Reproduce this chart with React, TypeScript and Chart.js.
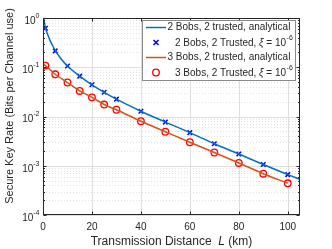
import React, { useEffect, useRef } from "react";
import { Chart, registerables } from "chart.js";
Chart.register(...registerables);

// ---- data ----
const blueLineL = [0, 0.5, 1, 2, 3, 4, 5, 7.5, 10, 15, 20, 25, 30, 40, 50, 60, 70, 80, 90, 100, 105];
const blueLineR = [1.3, 0.85, 0.63, 0.45, 0.34, 0.27, 0.22, 0.145, 0.106, 0.066, 0.044, 0.031, 0.0225, 0.0128, 0.0077, 0.0047, 0.0028, 0.00173, 0.00106, 0.00066, 0.00053];
const blueMarkL = [1, 5, 10, 15, 20, 25, 30, 40, 50, 60, 70, 80, 90, 100];
const blueMarkR = [0.62, 0.215, 0.106, 0.066, 0.044, 0.031, 0.0225, 0.0128, 0.0077, 0.0047, 0.0028, 0.00173, 0.00106, 0.00066];
const redLineL = [0, 1, 5, 10, 15, 20, 25, 30, 40, 50, 60, 70, 80, 90, 100];
const redLineR = [0.118, 0.108, 0.072, 0.049, 0.033, 0.0245, 0.0175, 0.0137, 0.008, 0.0049, 0.003, 0.00186, 0.00114, 0.00069, 0.00044];
const redMarkL = [1, 5, 10, 15, 20, 25, 30, 40, 50, 60, 70, 80, 90, 100];
const redMarkR = [0.108, 0.072, 0.049, 0.033, 0.0245, 0.0175, 0.0137, 0.008, 0.0049, 0.003, 0.00186, 0.00114, 0.00069, 0.00044];
const xTicks = [0, 20, 40, 60, 80, 100];
const yExponents = [0, -1, -2, -3, -4];
const legendLabels = [
  "2 Bobs, 2 trusted, analytical",
  "2 Bobs, 2 Trusted, ",
  "3 Bobs, 2 trusted, analytical",
  "3 Bobs, 2 Trusted, ",
];
const xTitle = ["Transmission Distance  ", "L", " (km)"];
const yTitle = "Secure Key Rate (Bits per Channel use)";

const BLUE = "#0072BD";
const ORANGE = "#D95319";
const MBLUE = "#0000FF";
const MRED = "#FF0000";
const AX = "#262626";
const FONT = '"Liberation Sans", Arial, Helvetica, sans-serif';

const pts = (xs: number[], ys: number[]) => xs.map((x, i) => ({ x, y: ys[i] }));

const drawPlugin = {
  id: "matlabAxes",
  beforeDatasetsDraw(chart: any) {
    const { ctx, chartArea: ca } = chart;
    const xs = chart.scales.x;
    const ys = chart.scales.y;
    ctx.save();
    ctx.strokeStyle = "#e2e2e2";
    ctx.lineWidth = 1;
    ctx.setLineDash([1, 2]);
    for (let e = -4; e < 0; e++) {
      for (let k = 2; k <= 9; k++) {
        const py = Math.round(ys.getPixelForValue(k * Math.pow(10, e))) + 0.5;
        ctx.beginPath();
        ctx.moveTo(ca.left, py);
        ctx.lineTo(ca.right, py);
        ctx.stroke();
      }
    }
    ctx.setLineDash([]);
    ctx.strokeStyle = "#dedede";
    for (const e of yExponents) {
      const py = Math.round(ys.getPixelForValue(Math.pow(10, e))) + 0.5;
      ctx.beginPath();
      ctx.moveTo(ca.left, py);
      ctx.lineTo(ca.right, py);
      ctx.stroke();
    }
    for (const t of xTicks) {
      const px = Math.round(xs.getPixelForValue(t)) + 0.5;
      ctx.beginPath();
      ctx.moveTo(px, ca.top);
      ctx.lineTo(px, ca.bottom);
      ctx.stroke();
    }
    ctx.restore();
  },
  afterDraw(chart: any) {
    const { ctx, chartArea: ca } = chart;
    const xs = chart.scales.x;
    const ys = chart.scales.y;
    ctx.save();
    const L = Math.round(ca.left) + 0.5;
    const R = Math.round(ca.right) - 0.5;
    const T = Math.round(ca.top) + 0.5;
    const B = Math.round(ca.bottom) - 0.5;
    ctx.strokeStyle = AX;
    ctx.lineWidth = 1;
    ctx.strokeRect(L, T, R - L, B - T);
    ctx.beginPath();
    for (const t of xTicks) {
      const px = Math.round(xs.getPixelForValue(t)) + 0.5;
      ctx.moveTo(px, B);
      ctx.lineTo(px, B - 3);
      ctx.moveTo(px, T);
      ctx.lineTo(px, T + 3);
    }
    for (const e of yExponents) {
      const py = Math.round(ys.getPixelForValue(Math.pow(10, e))) + 0.5;
      ctx.moveTo(L, py);
      ctx.lineTo(L + 3, py);
      ctx.moveTo(R, py);
      ctx.lineTo(R - 3, py);
    }
    for (let e = -4; e < 0; e++) {
      for (let k = 2; k <= 9; k++) {
        const py = Math.round(ys.getPixelForValue(k * Math.pow(10, e))) + 0.5;
        ctx.moveTo(L, py);
        ctx.lineTo(L + 1.5, py);
        ctx.moveTo(R, py);
        ctx.lineTo(R - 1.5, py);
      }
    }
    ctx.stroke();

    ctx.fillStyle = AX;
    ctx.font = `10px ${FONT}`;
    ctx.textAlign = "center";
    ctx.textBaseline = "middle";
    for (const t of xTicks) {
      ctx.fillText(String(t), xs.getPixelForValue(t), ca.bottom + 12);
    }
    for (const e of yExponents) {
      const py = ys.getPixelForValue(Math.pow(10, e));
      ctx.font = `7px ${FONT}`;
      const es = String(e);
      const ew = ctx.measureText(es).width;
      const xr = ca.left - 3.5;
      ctx.textAlign = "left";
      ctx.fillText(es, xr - ew, py - 2);
      ctx.font = `10px ${FONT}`;
      ctx.textAlign = "right";
      ctx.fillText("10", xr - ew, py + 3);
    }
    // x title
    const XF = 12;
    ctx.font = `${XF}px ${FONT}`;
    const w0 = ctx.measureText(xTitle[0]).width;
    ctx.font = `italic ${XF}px ${FONT}`;
    const w1 = ctx.measureText(xTitle[1]).width;
    ctx.font = `${XF}px ${FONT}`;
    const w2 = ctx.measureText(xTitle[2]).width;
    const x0 = (ca.left + ca.right) / 2 - (w0 + w1 + w2) / 2;
    const ty = ca.bottom + 27;
    ctx.textAlign = "left";
    ctx.fillText(xTitle[0], x0, ty);
    ctx.font = `italic ${XF}px ${FONT}`;
    ctx.fillText(xTitle[1], x0 + w0, ty);
    ctx.font = `${XF}px ${FONT}`;
    ctx.fillText(xTitle[2], x0 + w0 + w1, ty);
    // y title
    ctx.save();
    ctx.font = `11px ${FONT}`;
    ctx.translate(10, 106);
    ctx.rotate(-Math.PI / 2);
    ctx.textAlign = "center";
    ctx.fillText(yTitle, 0, 0);
    ctx.restore();

    // legend
    const lx = 142.5, lt = 20.5, lr = 295.5, lb = 80.5;
    ctx.fillStyle = "#ffffff";
    ctx.fillRect(lx, lt, lr - lx, lb - lt);
    ctx.strokeStyle = "#8a8a8a";
    ctx.lineWidth = 1;
    ctx.strokeRect(lx, lt, lr - lx, lb - lt);
    const rows = [27.5, 42.5, 57.5, 72.5];
    ctx.lineWidth = 1.5;
    ctx.strokeStyle = BLUE;
    ctx.beginPath(); ctx.moveTo(146, rows[0]); ctx.lineTo(166, rows[0]); ctx.stroke();
    ctx.strokeStyle = ORANGE;
    ctx.beginPath(); ctx.moveTo(146, rows[2]); ctx.lineTo(166, rows[2]); ctx.stroke();
    ctx.strokeStyle = MBLUE;
    const cx = 156, r = 2.5;
    ctx.beginPath();
    ctx.moveTo(cx - r, rows[1] - r); ctx.lineTo(cx + r, rows[1] + r);
    ctx.moveTo(cx + r, rows[1] - r); ctx.lineTo(cx - r, rows[1] + r);
    ctx.stroke();
    ctx.strokeStyle = MRED;
    ctx.lineWidth = 1.3;
    ctx.beginPath(); ctx.arc(cx, rows[3], 3.3, 0, Math.PI * 2); ctx.stroke();

    ctx.fillStyle = AX;
    ctx.textAlign = "left";
    ctx.textBaseline = "middle";
    ctx.font = `10px ${FONT}`;
    ctx.fillText(legendLabels[0], 167.5, rows[0]);
    ctx.fillText(legendLabels[2], 167.5, rows[2]);
    for (const ri of [1, 3]) {
      let x = 175;
      const y = rows[ri] + 0.5;
      ctx.font = `10px ${FONT}`;
      ctx.fillText(legendLabels[ri], x, y);
      x += ctx.measureText(legendLabels[ri]).width;
      ctx.font = `italic 10px ${FONT}`;
      ctx.fillText("\u03BE", x, y);
      x += ctx.measureText("\u03BE").width;
      ctx.font = `10px ${FONT}`;
      ctx.fillText(" = 10", x, y);
      x += ctx.measureText(" = 10").width;
      ctx.font = `7px ${FONT}`;
      ctx.fillText("-6", x + 0.5, y - 4.5);
    }
    ctx.restore();
  },
};

export default function App() {
  const ref = useRef<HTMLCanvasElement>(null);
  useEffect(() => {
    document.body.style.margin = "0";
    const canvas = ref.current!;
    const chart = new Chart(canvas, {
      type: "line",
      data: {
        datasets: [
          {
            label: "blueLine",
            data: pts(blueLineL, blueLineR),
            borderColor: BLUE,
            borderWidth: 1.5,
            pointRadius: 0,
            cubicInterpolationMode: "monotone",
            fill: false,
          },
          {
            label: "blueMarks",
            data: pts(blueMarkL, blueMarkR),
            showLine: false,
            pointStyle: "crossRot",
            pointRadius: 3.2,
            pointBorderWidth: 1.5,
            pointBorderColor: MBLUE,
            borderColor: MBLUE,
          },
          {
            label: "redLine",
            data: pts(redLineL, redLineR),
            borderColor: ORANGE,
            borderWidth: 1.5,
            pointRadius: 0,
            cubicInterpolationMode: "monotone",
            fill: false,
          },
          {
            label: "redMarks",
            data: pts(redMarkL, redMarkR),
            showLine: false,
            pointStyle: "circle",
            pointRadius: 3.3,
            pointBorderWidth: 1.3,
            pointBorderColor: MRED,
            pointBackgroundColor: "rgba(255,255,255,0)",
            borderColor: MRED,
          },
        ],
      } as any,
      options: {
        animation: false,
        responsive: false,
        devicePixelRatio: 1,
        events: [],
        layout: { padding: { left: 43, right: 32, top: 18, bottom: 34 } },
        plugins: { legend: { display: false }, tooltip: { enabled: false } },
        scales: {
          x: { type: "linear", min: 0, max: 105, display: false },
          y: { type: "logarithmic", min: 1e-4, max: 1, display: false },
        },
      } as any,
      plugins: [drawPlugin],
    });
    return () => chart.destroy();
  }, []);
  return (
    <div style={{ position: "fixed", left: 0, top: 0, width: 332, height: 249, background: "#fff" }}>
      <canvas ref={ref} width={332} height={249} style={{ width: 332, height: 249, display: "block" }} />
    </div>
  );
}
